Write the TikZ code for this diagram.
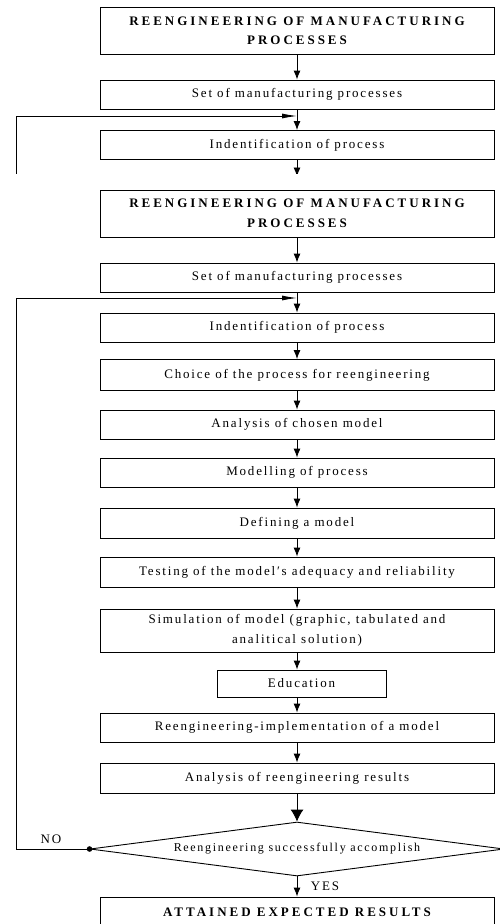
\documentclass[tikz,border=0pt]{standalone}
\usepackage{fontspec}
\setmainfont{Liberation Serif}
\newfontfamily\spacedfont[LetterSpace=14]{Liberation Serif}
\newfontfamily\headfont[LetterSpace=23]{Liberation Serif}
\usetikzlibrary{shapes.geometric,arrows.meta}

\tikzset{
  stepbox/.style={draw,line width=0.9pt,minimum width=394pt,minimum height=29pt,inner sep=0pt,
    align=center,font=\spacedfont\fontsize{13}{19.5}\selectfont},
  headbox/.style={stepbox,minimum height=47pt,font=\headfont\bfseries\fontsize{13}{19.5}\selectfont},
  flow/.style={line width=0.9pt,-{Latex[length=9pt,width=7pt]}},
  bigflow/.style={line width=0.9pt,-{Latex[length=12pt,width=13pt]}},
  backflow/.style={line width=0.9pt,-{Latex[length=15pt,width=5pt]}},
  tag/.style={font=\spacedfont\fontsize{13}{15}\selectfont,inner sep=0pt}
}

\begin{document}
\begin{tikzpicture}[x=1pt,y=-1pt]
\useasboundingbox (0,0) rectangle (500,924);
\clip (0,0) rectangle (500,924);

% Repeated top strip (cut off)
\begin{scope}
\clip (0,0) rectangle (500,173);
\node[headbox] (top1) at (297,31) {REENGINEERING OF MANUFACTURING\\PROCESSES};
\node[stepbox] (top2) at (297,94.5) {Set of manufacturing processes};
\node[stepbox] (top3) at (297,145) {Indentification of process};
\coordinate (topjoin) at (297,116);
\coordinate (topend) at (297,176.5);
\coordinate (topcorner) at (16,116);
\draw[flow] (top1) -- (top2);
\draw[flow] (top2) -- (top3);
\draw[flow] (top3) -- (topend);
\draw[backflow] (16,200) -- (topcorner) -- (topjoin);
\end{scope}

% Process steps
\node[headbox] (head) at (297,213.5) {REENGINEERING OF MANUFACTURING\\PROCESSES};
\node[stepbox] (set) at (297,277.5) {Set of manufacturing processes};
\node[stepbox] (ident) at (297,327.5) {Indentification of process};
\node[stepbox,minimum height=31pt] (choice) at (297,375) {Choice of the process for reengineering};
\node[stepbox] (analysis) at (297,424.5) {Analysis of chosen model};
\node[stepbox] (modelling) at (297,472.5) {Modelling of process};
\node[stepbox,minimum height=30pt] (defining) at (297,523) {Defining a model};
\node[stepbox,minimum height=30pt] (testing) at (297,572) {Testing of the model′s adequacy and reliability};
\node[stepbox,minimum height=43pt] (simulation) at (297,630.5) {Simulation of model (graphic, tabulated and\\analitical solution)};
\node[stepbox,minimum width=169pt,minimum height=27pt] (education) at (301.5,683.5) {Education};
\node[stepbox] (implement) at (297,727.5) {Reengineering-implementation of a model};
\node[stepbox,minimum height=30pt] (results) at (297,778) {Analysis of reengineering results};

% Decision
\node[draw,line width=0.9pt,shape=diamond,aspect=7.67,minimum width=414pt,minimum height=54pt,inner sep=0pt,
  font=\spacedfont\fontsize{12}{14}\selectfont] (check) at (297,849) {Reengineering successfully accomplish};
\node[headbox,minimum height=30pt] (attained) at (297,912) {ATTAINED EXPECTED RESULTS};

% Connectors
\coordinate (join) at (297,298);
\coordinate (corner) at (16,298);
\draw[flow] (head) -- (set);
\draw[flow] (set) -- (ident);
\draw[flow] (ident) -- (choice);
\draw[flow] (choice) -- (analysis);
\draw[flow] (analysis) -- (modelling);
\draw[flow] (modelling) -- (defining);
\draw[flow] (defining) -- (testing);
\draw[flow] (testing) -- (simulation);
\draw[flow] (simulation.south) -- (simulation.south |- education.north);
\draw[flow] (education.south -| implement.north) -- (implement.north);
\draw[flow] (implement) -- (results);
\draw[bigflow] (results) -- (check);
\draw[flow] (check) -- (attained);

% Loop back
\fill (check.west) circle (2.8pt);
\draw[backflow] (check.west) -| (corner) -- (join);
\node[tag] (no) at (51,839) {NO};
\node[tag] (yes) at (325,886) {YES};
\end{tikzpicture}
\end{document}
